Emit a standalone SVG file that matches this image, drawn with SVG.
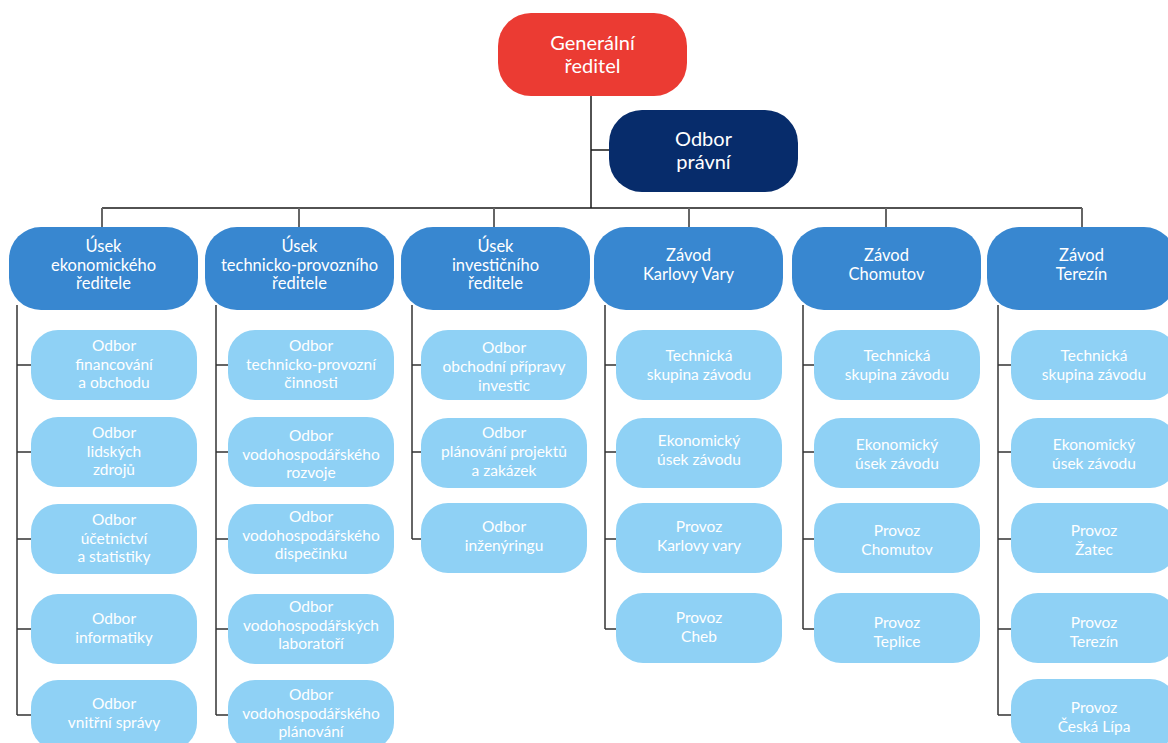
<svg xmlns="http://www.w3.org/2000/svg" width="1168" height="743" viewBox="0 0 1168 743">
<style>
.bg{fill:#ffffff}
.top{fill:#EB3B33}
.legal{fill:#072C6B}
.l2{fill:#3887D0}
.l3{fill:#8FD1F5}
text{font-family:Lato,"Noto Sans","Liberation Sans",sans-serif;fill:#ffffff;text-anchor:middle}
.t1{font-size:20px}
.t2{font-size:16.5px}
.t3{font-size:15.5px}
.bus{stroke:#1a1a1a;stroke-width:1.5;fill:none}
.drop{stroke:#666666;stroke-width:2;fill:none}
.stub{stroke:#333333;stroke-width:1.5;fill:none}
</style>
<rect class="bg" x="0" y="0" width="1168" height="743"/>
<g id="connectors">
<path class="bus" d="M591 96V208M591 150H609M102 208H1082"/>
<path class="drop" d="M102 208V228M299 208V228M494 208V228M689 208V228M886 208V228M1082 208V228"/>
<path class="drop" d="M17 305V715M216 305V715M412 305V539M605 305V629M803 305V629M998 305V715"/>
<path class="stub" d="M17 365H32M17 452H32M17 539H32M17 629H32M17 715H32"/>
<path class="stub" d="M216 365H229M216 452H229M216 539H229M216 629H229M216 715H229"/>
<path class="stub" d="M412 365H422M412 452H422M412 539H422"/>
<path class="stub" d="M605 365H617M605 452H617M605 539H617M605 629H617"/>
<path class="stub" d="M803 365H815M803 452H815M803 539H815M803 629H815"/>
<path class="stub" d="M998 365H1012M998 452H1012M998 539H1012M998 629H1012M998 715H1012"/>
</g>
<g id="n-generalni">
<rect class="top" x="498" y="13" width="189" height="83" rx="33"/>
<text class="t1" x="592.5" y="50">Generální</text>
<text class="t1" x="592.5" y="73">ředitel</text>
</g>
<g id="n-pravni">
<rect class="legal" x="609" y="110" width="189" height="82" rx="33"/>
<text class="t1" x="703.5" y="146">Odbor</text>
<text class="t1" x="703.5" y="169">právní</text>
</g>
<g id="n-ekon">
<rect class="l2" x="9" y="227" width="189" height="83" rx="32"/>
<text class="t2" x="103.5" y="252">Úsek</text>
<text class="t2" x="103.5" y="270.5">ekonomického</text>
<text class="t2" x="103.5" y="289">ředitele</text>
</g>
<g id="n-tech">
<rect class="l2" x="205" y="227" width="189" height="83" rx="32"/>
<text class="t2" x="299.5" y="252">Úsek</text>
<text class="t2" x="299.5" y="270.5">technicko-provozního</text>
<text class="t2" x="299.5" y="289">ředitele</text>
</g>
<g id="n-invest">
<rect class="l2" x="401" y="227" width="189" height="83" rx="32"/>
<text class="t2" x="495.5" y="252">Úsek</text>
<text class="t2" x="495.5" y="270.5">investičního</text>
<text class="t2" x="495.5" y="289">ředitele</text>
</g>
<g id="n-kv">
<rect class="l2" x="594" y="227" width="189" height="83" rx="32"/>
<text class="t2" x="688.5" y="261">Závod</text>
<text class="t2" x="688.5" y="279.5">Karlovy Vary</text>
</g>
<g id="n-ch">
<rect class="l2" x="792" y="227" width="189" height="83" rx="32"/>
<text class="t2" x="886.5" y="261">Závod</text>
<text class="t2" x="886.5" y="279.5">Chomutov</text>
</g>
<g id="n-tz">
<rect class="l2" x="987" y="227" width="189" height="83" rx="32"/>
<text class="t2" x="1081.5" y="261">Závod</text>
<text class="t2" x="1081.5" y="279.5">Terezín</text>
</g>
<!-- column 1 -->
<g id="c1-1"><rect class="l3" x="31" y="330" width="166" height="70" rx="27"/>
<text class="t3" x="114" y="351">Odbor</text><text class="t3" x="114" y="369.5">financování</text><text class="t3" x="114" y="388">a obchodu</text></g>
<g id="c1-2"><rect class="l3" x="31" y="417" width="166" height="70" rx="27"/>
<text class="t3" x="114" y="438">Odbor</text><text class="t3" x="114" y="456.5">lidských</text><text class="t3" x="114" y="475">zdrojů</text></g>
<g id="c1-3"><rect class="l3" x="31" y="504" width="166" height="70" rx="27"/>
<text class="t3" x="114" y="525">Odbor</text><text class="t3" x="114" y="543.5">účetnictví</text><text class="t3" x="114" y="562">a statistiky</text></g>
<g id="c1-4"><rect class="l3" x="31" y="594" width="166" height="70" rx="27"/>
<text class="t3" x="114" y="624">Odbor</text><text class="t3" x="114" y="642.5">informatiky</text></g>
<g id="c1-5"><rect class="l3" x="31" y="680" width="166" height="70" rx="27"/>
<text class="t3" x="114" y="709">Odbor</text><text class="t3" x="114" y="727.5">vnitřní správy</text></g>
<!-- column 2 -->
<g id="c2-1"><rect class="l3" x="228" y="330" width="166" height="70" rx="27"/>
<text class="t3" x="311" y="351">Odbor</text><text class="t3" x="311" y="369.5">technicko-provozní</text><text class="t3" x="311" y="388">činnosti</text></g>
<g id="c2-2"><rect class="l3" x="228" y="417" width="166" height="70" rx="27"/>
<text class="t3" x="311" y="441">Odbor</text><text class="t3" x="311" y="459.5">vodohospodářského</text><text class="t3" x="311" y="478">rozvoje</text></g>
<g id="c2-3"><rect class="l3" x="228" y="504" width="166" height="70" rx="27"/>
<text class="t3" x="311" y="522">Odbor</text><text class="t3" x="311" y="540.5">vodohospodářského</text><text class="t3" x="311" y="559">dispečinku</text></g>
<g id="c2-4"><rect class="l3" x="228" y="594" width="166" height="70" rx="27"/>
<text class="t3" x="311" y="612">Odbor</text><text class="t3" x="311" y="630.5">vodohospodářských</text><text class="t3" x="311" y="649">laboratoří</text></g>
<g id="c2-5"><rect class="l3" x="228" y="680" width="166" height="70" rx="27"/>
<text class="t3" x="311" y="700">Odbor</text><text class="t3" x="311" y="718.5">vodohospodářského</text><text class="t3" x="311" y="737">plánování</text></g>
<!-- column 3 -->
<g id="c3-1"><rect class="l3" x="421" y="330" width="166" height="70" rx="27"/>
<text class="t3" x="504" y="353">Odbor</text><text class="t3" x="504" y="372">obchodní přípravy</text><text class="t3" x="504" y="391">investic</text></g>
<g id="c3-2"><rect class="l3" x="421" y="418" width="166" height="70" rx="27"/>
<text class="t3" x="504" y="438">Odbor</text><text class="t3" x="504" y="457">plánování projektů</text><text class="t3" x="504" y="476">a zakázek</text></g>
<g id="c3-3"><rect class="l3" x="421" y="503" width="166" height="70" rx="27"/>
<text class="t3" x="504" y="532">Odbor</text><text class="t3" x="504" y="551">inženýringu</text></g>
<!-- column 4 -->
<g id="c4-1"><rect class="l3" x="616" y="330" width="166" height="70" rx="27"/>
<text class="t3" x="699" y="361">Technická</text><text class="t3" x="699" y="379.5">skupina závodu</text></g>
<g id="c4-2"><rect class="l3" x="616" y="418" width="166" height="70" rx="27"/>
<text class="t3" x="699" y="446">Ekonomický</text><text class="t3" x="699" y="464.5">úsek závodu</text></g>
<g id="c4-3"><rect class="l3" x="616" y="503" width="166" height="70" rx="27"/>
<text class="t3" x="699" y="532">Provoz</text><text class="t3" x="699" y="550.5">Karlovy vary</text></g>
<g id="c4-4"><rect class="l3" x="616" y="593" width="166" height="70" rx="27"/>
<text class="t3" x="699" y="623">Provoz</text><text class="t3" x="699" y="641.5">Cheb</text></g>
<!-- column 5 -->
<g id="c5-1"><rect class="l3" x="814" y="330" width="166" height="70" rx="27"/>
<text class="t3" x="897" y="361">Technická</text><text class="t3" x="897" y="379.5">skupina závodu</text></g>
<g id="c5-2"><rect class="l3" x="814" y="418" width="166" height="70" rx="27"/>
<text class="t3" x="897" y="450">Ekonomický</text><text class="t3" x="897" y="468.5">úsek závodu</text></g>
<g id="c5-3"><rect class="l3" x="814" y="503" width="166" height="70" rx="27"/>
<text class="t3" x="897" y="536">Provoz</text><text class="t3" x="897" y="554.5">Chomutov</text></g>
<g id="c5-4"><rect class="l3" x="814" y="593" width="166" height="70" rx="27"/>
<text class="t3" x="897" y="628">Provoz</text><text class="t3" x="897" y="646.5">Teplice</text></g>
<!-- column 6 -->
<g id="c6-1"><rect class="l3" x="1011" y="330" width="166" height="70" rx="27"/>
<text class="t3" x="1094" y="361">Technická</text><text class="t3" x="1094" y="379.5">skupina závodu</text></g>
<g id="c6-2"><rect class="l3" x="1011" y="418" width="166" height="70" rx="27"/>
<text class="t3" x="1094" y="450">Ekonomický</text><text class="t3" x="1094" y="468.5">úsek závodu</text></g>
<g id="c6-3"><rect class="l3" x="1011" y="503" width="166" height="70" rx="27"/>
<text class="t3" x="1094" y="536">Provoz</text><text class="t3" x="1094" y="554.5">Žatec</text></g>
<g id="c6-4"><rect class="l3" x="1011" y="593" width="166" height="70" rx="27"/>
<text class="t3" x="1094" y="628">Provoz</text><text class="t3" x="1094" y="646.5">Terezín</text></g>
<g id="c6-5"><rect class="l3" x="1011" y="679" width="166" height="70" rx="27"/>
<text class="t3" x="1094" y="713">Provoz</text><text class="t3" x="1094" y="731.5">Česká Lípa</text></g>
</svg>
